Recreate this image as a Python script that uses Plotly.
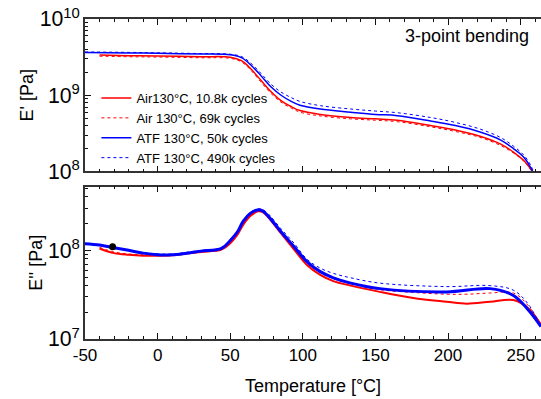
import plotly.graph_objects as go
from plotly.subplots import make_subplots

# ---------------- data ----------------
# Storage modulus E' [Pa]
T_atf50_s = [-50, -20, 0, 30, 50, 58, 64, 71, 78, 85, 92, 98, 112, 133, 150, 165, 188, 205, 222, 236, 245, 252, 257, 260]
Es_atf50 = [3.63e9, 3.59e9, 3.55e9, 3.47e9, 3.39e9, 3.09e9, 2.51e9, 1.82e9, 1.29e9, 1.0e9, 8.3e8, 7.4e8, 6.6e8, 6.0e8,
            5.6e8, 5.4e8, 4.6e8, 4.0e8, 3.3e8, 2.6e8, 2.0e8, 1.55e8, 1.12e8, 7.9e7]
Es_atf490 = [3.7e9, 3.65e9, 3.6e9, 3.52e9, 3.45e9, 3.2e9, 2.65e9, 1.95e9, 1.4e9, 1.1e9, 9.3e8, 8.3e8, 7.3e8, 6.6e8,
             6.2e8, 5.9e8, 5.1e8, 4.4e8, 3.6e8, 2.8e8, 2.15e8, 1.65e8, 1.2e8, 8.5e7]
T_air_s = [-40, -20, 0, 30, 50, 58, 64, 71, 78, 85, 92, 98, 112, 133, 150, 165, 188, 205, 222, 236, 245, 252, 257, 261]
Es_air10 = [3.36e9, 3.3e9, 3.27e9, 3.2e9, 3.15e9, 2.82e9, 2.24e9, 1.58e9, 1.12e9, 8.5e8, 7.1e8, 6.3e8, 5.6e8, 5.1e8,
            4.9e8, 4.7e8, 4.0e8, 3.5e8, 2.9e8, 2.3e8, 1.8e8, 1.4e8, 1.07e8, 7.9e7]
Es_air69 = [3.25e9, 3.2e9, 3.17e9, 3.1e9, 3.05e9, 2.72e9, 2.15e9, 1.5e9, 1.06e9, 8.1e8, 6.8e8, 6.0e8, 5.35e8, 4.9e8,
            4.7e8, 4.5e8, 3.85e8, 3.35e8, 2.8e8, 2.2e8, 1.75e8, 1.37e8, 1.05e8, 7.9e7]

# Loss modulus E'' [Pa]
T_atf_l = [-50, -40, -30, -20, -10, 0, 10, 20, 30, 44, 50, 55, 59, 64, 69, 72, 76, 85, 94, 103, 112, 121, 133, 153,
           199, 229, 245, 255, 264]
El_atf50 = [1.19e8, 1.15e8, 1.07e8, 1.0e8, 9.3e7, 8.9e7, 8.9e7, 9.3e7, 9.8e7, 1.05e8, 1.29e8, 1.62e8, 2.14e8, 2.63e8,
            2.86e8, 2.8e8, 2.45e8, 1.62e8, 1.1e8, 7.4e7, 5.75e7, 4.9e7, 4.27e7, 3.7e7, 3.4e7, 3.7e7, 3.1e7, 2.15e7, 1.38e7]
El_atf490 = [1.2e8, 1.16e8, 1.08e8, 1.01e8, 9.5e7, 9.1e7, 9.1e7, 9.5e7, 1.0e8, 1.07e8, 1.3e8, 1.63e8, 2.16e8, 2.68e8,
             2.93e8, 2.9e8, 2.6e8, 1.75e8, 1.2e8, 7.9e7, 6.3e7, 5.5e7, 4.9e7, 4.27e7, 3.9e7, 4.0e7, 3.55e7, 2.5e7, 1.38e7]
T_air_l = [-40, -30, -20, -10, 0, 10, 20, 30, 44, 50, 55, 59, 64, 69, 72, 76, 85, 94, 103, 112, 121, 133, 153, 176,
           199, 213, 229, 245, 255, 264]
El_air10 = [1.05e8, 9.3e7, 8.9e7, 8.7e7, 8.7e7, 8.8e7, 9.2e7, 9.6e7, 1.02e8, 1.2e8, 1.5e8, 1.95e8, 2.45e8, 2.75e8,
            2.72e8, 2.38e8, 1.55e8, 1.02e8, 6.8e7, 5.3e7, 4.5e7, 4.0e7, 3.4e7, 2.9e7, 2.63e7, 2.5e7, 2.63e7, 2.75e7,
            2.24e7, 1.45e7]
El_air69 = [1.08e8, 9.6e7, 9.1e7, 8.9e7, 8.9e7, 9.0e7, 9.3e7, 9.7e7, 1.03e8, 1.22e8, 1.53e8, 2.0e8, 2.5e8, 2.8e8,
            2.78e8, 2.45e8, 1.6e8, 1.05e8, 7.1e7, 5.6e7, 4.8e7, 4.2e7, 3.6e7, 3.35e7, 3.2e7, 3.2e7, 3.3e7, 3.3e7,
            2.4e7, 1.4e7]

marker_T = [-31]
marker_E = [1.1e8]

names = ["Air130°C, 10.8k cycles", "Air 130°C, 69k cycles", "ATF 130°C, 50k cycles", "ATF 130°C, 490k cycles"]

x_tickvals = [-50, 0, 50, 100, 150, 200, 250]
x_ticktext = ["-50", "0", "50", "100", "150", "200", "250"]

FONT = "Arial, Liberation Sans, sans-serif"

fig = make_subplots(rows=2, cols=1, shared_xaxes=False, vertical_spacing=0.047,
                    row_heights=[0.5, 0.5])

RED = "#ff0000"
BLUE = "#0000ff"

# top panel
fig.add_trace(go.Scatter(x=T_air_s, y=Es_air10, mode="lines", name=names[0],
                         line=dict(color=RED, width=1.5), line_shape="spline"), row=1, col=1)
fig.add_trace(go.Scatter(x=T_air_s, y=Es_air69, mode="lines", name=names[1],
                         line=dict(color=RED, width=1, dash="dot"), line_shape="spline"), row=1, col=1)
fig.add_trace(go.Scatter(x=T_atf50_s, y=Es_atf50, mode="lines", name=names[2],
                         line=dict(color=BLUE, width=1.5), line_shape="spline"), row=1, col=1)
fig.add_trace(go.Scatter(x=T_atf50_s, y=Es_atf490, mode="lines", name=names[3],
                         line=dict(color=BLUE, width=1, dash="dot"), line_shape="spline"), row=1, col=1)

# bottom panel
fig.add_trace(go.Scatter(x=T_air_l, y=El_air10, mode="lines", showlegend=False,
                         line=dict(color=RED, width=2), line_shape="spline"), row=2, col=1)
fig.add_trace(go.Scatter(x=T_air_l, y=El_air69, mode="lines", showlegend=False,
                         line=dict(color=RED, width=1, dash="dot"), line_shape="spline"), row=2, col=1)
fig.add_trace(go.Scatter(x=T_atf_l, y=El_atf50, mode="lines", showlegend=False,
                         line=dict(color=BLUE, width=3), line_shape="spline"), row=2, col=1)
fig.add_trace(go.Scatter(x=T_atf_l, y=El_atf490, mode="lines", showlegend=False,
                         line=dict(color=BLUE, width=1, dash="dot"), line_shape="spline"), row=2, col=1)
fig.add_trace(go.Scatter(x=marker_T, y=marker_E, mode="markers", showlegend=False,
                         marker=dict(color="black", size=7)), row=2, col=1)

xcommon = dict(range=[-50, 264], showgrid=False, zeroline=False, showline=True, linecolor="#333",
               linewidth=1.5, mirror="allticks", ticks="inside", ticklen=6, tickwidth=1.2,
               tickcolor="#111", tickmode="array", tickvals=x_tickvals, ticktext=x_ticktext,
               minor=dict(ticks="inside", tickmode="linear", tick0=0, dtick=10, ticklen=3, tickcolor="#111"),
               tickfont=dict(family=FONT, size=17, color="black"), automargin=False)
fig.update_xaxes(**xcommon)
fig.update_xaxes(showticklabels=False, row=1, col=1)
fig.update_xaxes(title=dict(text="Temperature [°C]", font=dict(family=FONT, size=18, color="black"), standoff=15),
                 row=2, col=1)

ycommon = dict(type="log", showgrid=False, zeroline=False, showline=True, linecolor="#333",
               linewidth=1.5, mirror=False, ticks="inside", ticklen=6, tickwidth=1.2, tickcolor="#111",
               dtick=1, exponentformat="power",
               minor=dict(ticks="inside", dtick="D1", ticklen=3, tickcolor="#111"),
               tickfont=dict(family=FONT, size=17, color="black"), automargin=False)
fig.update_yaxes(**ycommon)
fig.update_yaxes(range=[8, 10], row=1, col=1,
                 title=dict(text="E' [Pa]", font=dict(family=FONT, size=18, color="black"), standoff=1))
fig.update_yaxes(range=[7, 8.72], row=2, col=1,
                 title=dict(text="E'' [Pa]", font=dict(family=FONT, size=18, color="black"), standoff=1))

fig.update_layout(
    width=541, height=399,
    margin=dict(l=85, r=0, t=19, b=60),
    paper_bgcolor="white", plot_bgcolor="white",
    font=dict(family=FONT, color="black"),
    legend=dict(x=0.025, y=0.80, xanchor="left", yanchor="top", bgcolor="rgba(0,0,0,0)",
                font=dict(family=FONT, size=13, color="black"), tracegroupgap=0, itemwidth=30),
    annotations=[dict(text="3-point bending", x=0.978, y=0.985, xref="paper", yref="paper",
                      xanchor="right", yanchor="top", showarrow=False,
                      font=dict(family=FONT, size=18, color="black"))],
)

fig.write_html("out.html", config={"displayModeBar": False},
               post_script="document.body.style.margin='0';document.body.style.overflow='hidden';")
